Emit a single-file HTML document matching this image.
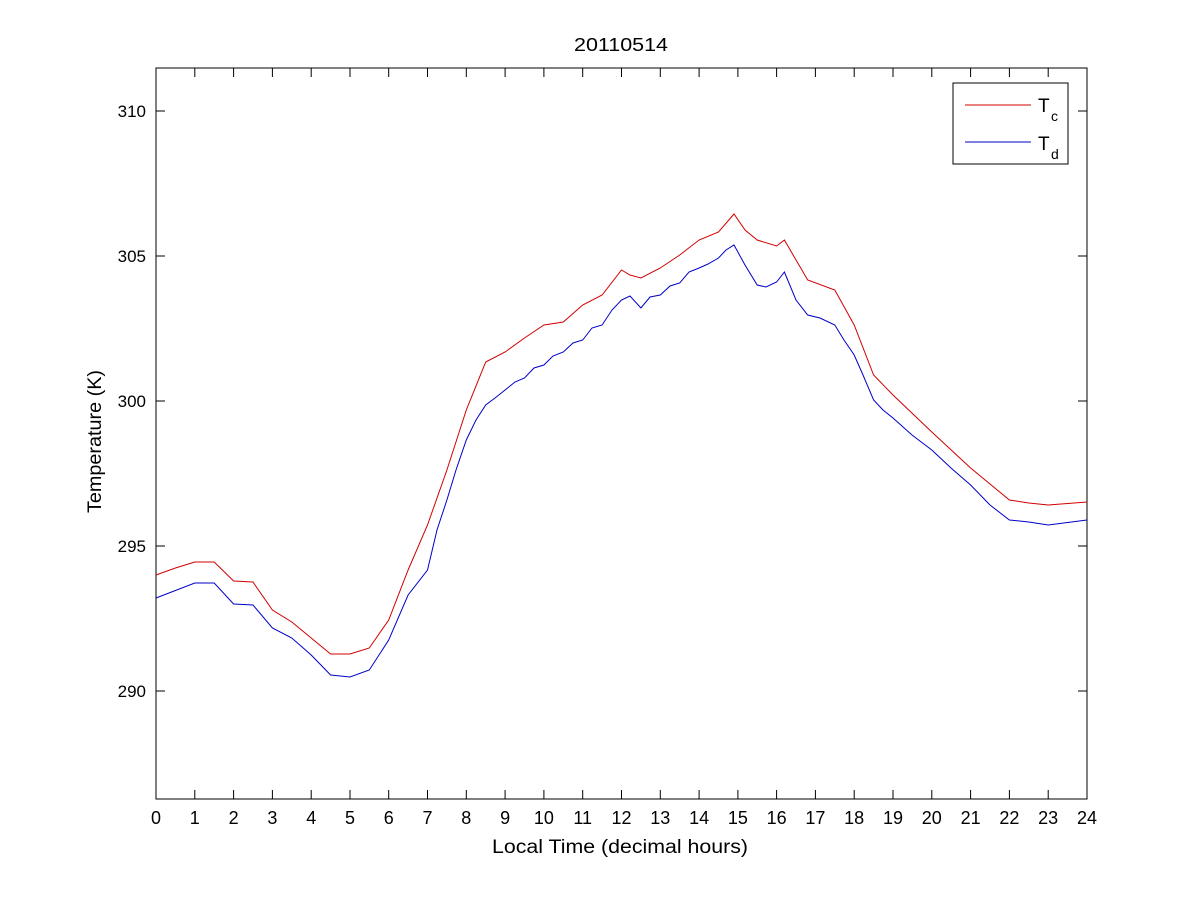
<!DOCTYPE html>
<html><head><meta charset="utf-8"><style>body{margin:0;background:#fff}svg{display:block}text{font-family:"Liberation Sans",Arial,sans-serif}</style></head>
<body>
<svg width="1201" height="900" viewBox="0 0 1201 900" xmlns="http://www.w3.org/2000/svg">
<rect width="1201" height="900" fill="#fff"/>
<rect x="156" y="68" width="931" height="731" fill="#fff" stroke="#000" stroke-width="1"/>
<g stroke="#000" stroke-width="1">
<line x1="156" y1="111" x2="165" y2="111"/><line x1="1087" y1="111" x2="1078" y2="111"/>
<line x1="156" y1="256" x2="165" y2="256"/><line x1="1087" y1="256" x2="1078" y2="256"/>
<line x1="156" y1="401" x2="165" y2="401"/><line x1="1087" y1="401" x2="1078" y2="401"/>
<line x1="156" y1="546" x2="165" y2="546"/><line x1="1087" y1="546" x2="1078" y2="546"/>
<line x1="156" y1="691" x2="165" y2="691"/><line x1="1087" y1="691" x2="1078" y2="691"/>
<path d="M194.8 799v-9M233.6 799v-9M272.4 799v-9M311.2 799v-9M350 799v-9M388.7 799v-9M427.5 799v-9M466.3 799v-9M505.1 799v-9M543.9 799v-9M582.7 799v-9M621.5 799v-9M660.3 799v-9M699.1 799v-9M737.9 799v-9M776.6 799v-9M815.4 799v-9M854.2 799v-9M893 799v-9M931.8 799v-9M970.6 799v-9M1009.4 799v-9M1048.2 799v-9
M194.8 68v9M233.6 68v9M272.4 68v9M311.2 68v9M350 68v9M388.7 68v9M427.5 68v9M466.3 68v9M505.1 68v9M543.9 68v9M582.7 68v9M621.5 68v9M660.3 68v9M699.1 68v9M737.9 68v9M776.6 68v9M815.4 68v9M854.2 68v9M893 68v9M931.8 68v9M970.6 68v9M1009.4 68v9M1048.2 68v9"/>
</g>
<g font-size="17" text-anchor="end">
<text x="146" y="117">310</text><text x="146" y="262">305</text><text x="146" y="407">300</text><text x="146" y="552">295</text><text x="146" y="697">290</text>
</g>
<g font-size="18" text-anchor="middle">
<text x="156" y="824">0</text><text x="194.8" y="824">1</text><text x="233.6" y="824">2</text><text x="272.4" y="824">3</text><text x="311.2" y="824">4</text><text x="350" y="824">5</text><text x="388.7" y="824">6</text><text x="427.5" y="824">7</text><text x="466.3" y="824">8</text><text x="505.1" y="824">9</text><text x="543.9" y="824">10</text><text x="582.7" y="824">11</text><text x="621.5" y="824">12</text><text x="660.3" y="824">13</text><text x="699.1" y="824">14</text><text x="737.9" y="824">15</text><text x="776.6" y="824">16</text><text x="815.4" y="824">17</text><text x="854.2" y="824">18</text><text x="893" y="824">19</text><text x="931.8" y="824">20</text><text x="970.6" y="824">21</text><text x="1009.4" y="824">22</text><text x="1048.2" y="824">23</text><text x="1087" y="824">24</text>
</g>
<text x="574" y="51" font-size="18" textLength="94" lengthAdjust="spacingAndGlyphs">20110514</text>
<text x="492" y="853" font-size="19" textLength="256" lengthAdjust="spacingAndGlyphs">Local Time (decimal hours)</text>
<text transform="translate(101,513) rotate(-90)" font-size="19" textLength="143" lengthAdjust="spacingAndGlyphs">Temperature (K)</text>
<polyline fill="none" stroke="#d00000" stroke-width="1" points="156,575 175.4,568 194.8,562 214.2,562 233.6,581 253,582 272.4,610 291.8,622 311.2,638 330.6,654 350,654 369.3,648 388.7,620 408.1,570 427.5,525 446.9,470 466.3,410 485.7,362 505.1,352 524.5,338 543.9,325 563.3,322 582.7,305 602.1,295 621.5,270 630,275 640.9,278 660.3,268 679.7,255 699.1,240 718.5,232 734,214 745,230 757.2,240 776.6,246 784.4,240 807.7,280 834.8,290 854.2,325 873.6,375 893,395 931.8,432 970.6,468 1009.4,500 1028.8,503 1048.2,505 1087,502"/>
<polyline fill="none" stroke="#0000c8" stroke-width="1" points="156,598 194.8,583 214.2,583 233.6,604 253,605 272.4,628 291.8,638 311.2,655 330.6,675 350,677 369.3,670 388.7,640 408.1,595 427.5,570 437,530 446.9,500 456,470 466.3,440 476,420 485.7,405 495,398 505.1,390 515,382 524.5,378 534,368 543.9,365 553,356 563.3,352 573,343 582.7,340 592,328 602.1,325 612,310 621.5,300 630,296 640.9,308 650,297 660.3,295 670,286 679.7,283 689,272 699.1,268 708,264 718.5,258 726,250 734,245 745,265 757.2,285 766,287 776.6,282 784.4,272 796,300 807.7,315 820,318 834.8,325 844,340 854.2,355 863,375 873.6,400 883,410 893,418 912,435 931.8,450 951,468 970.6,485 990,505 1009.4,520 1028.8,522 1048.2,525 1087,520"/>
<rect x="953" y="83" width="115" height="81" fill="#fff" stroke="#000"/>
<line x1="965" y1="105" x2="1031" y2="105" stroke="#d00000"/>
<line x1="965" y1="142" x2="1031" y2="142" stroke="#0000c8"/>
<text x="1038" y="112" font-size="19">T</text><text x="1051" y="121" font-size="14">c</text>
<text x="1038" y="150" font-size="19">T</text><text x="1051" y="159" font-size="14">d</text>
</svg>
</body></html>
